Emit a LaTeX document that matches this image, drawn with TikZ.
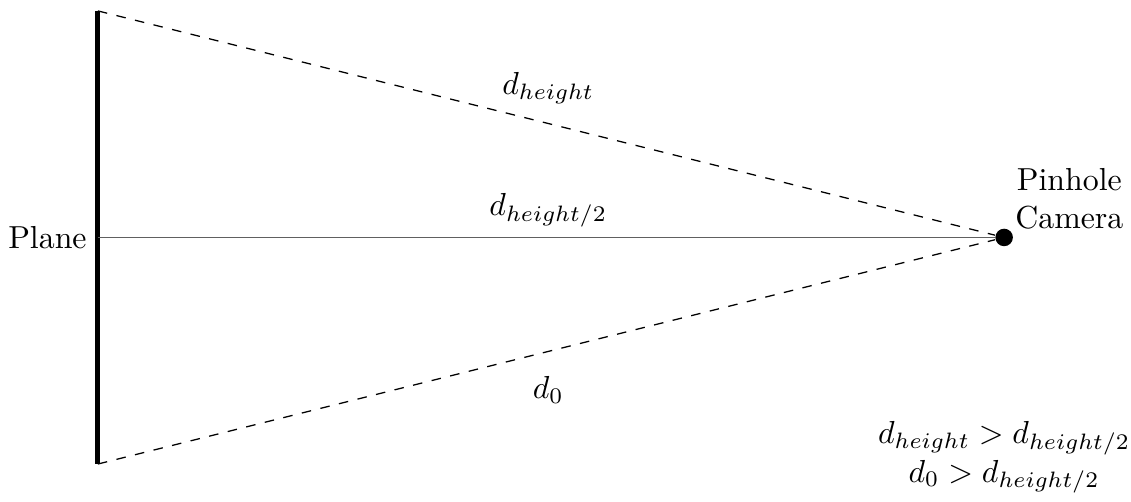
\documentclass[tikz,border=0pt]{standalone}
\usepackage{amsmath,amssymb}
\usepackage{tikz}
\usetikzlibrary{arrows.meta, positioning, calc}

\begin{document}
\begin{tikzpicture}[
	scale=1.0,
	plane/.style={line width=1.6pt, black},
	ray/.style={dashed, black},
	axis/.style={gray!75!black, line width=0.55pt},
	pinhole/.style={circle, fill=black, inner sep=0pt, minimum size=5.5pt}
	]
	
	\useasboundingbox (-1.08,-2.91) rectangle (11.40,2.62);
	
	% --------------------------------------------------
	% Plane and camera
	% --------------------------------------------------
	\coordinate (top) at (0,2.5);
	\coordinate (bot) at (0,-2.5);
	\coordinate (mid) at (0,0);
	\node[pinhole] (cam) at (10,0) {};
	
	\draw[plane] (top) -- (bot);
	\node[left] (planelbl) at (mid) {Plane};
	
	\node[align=center] (camlbl) at (10.72,0.43) {Pinhole\\Camera};
	
	% --------------------------------------------------
	% Rays
	% --------------------------------------------------
	\draw[ray] (top) -- (cam);
	\draw[axis] (mid) -- (cam);
	\draw[ray] (bot) -- (cam);
	
	\node (dh) at (4.97,1.65) {$d_{height}$};
	\node (dh2) at (4.97,0.30) {$d_{height/2}$};
	\node (d0) at (4.97,-1.68) {$d_0$};
	
	% --------------------------------------------------
	% Relations
	% --------------------------------------------------
	\node[align=center] (rel) at (10.0,-2.43)
	{$d_{height} > d_{height/2}$\\$d_0 > d_{height/2}$};
	
\end{tikzpicture}
\end{document}
